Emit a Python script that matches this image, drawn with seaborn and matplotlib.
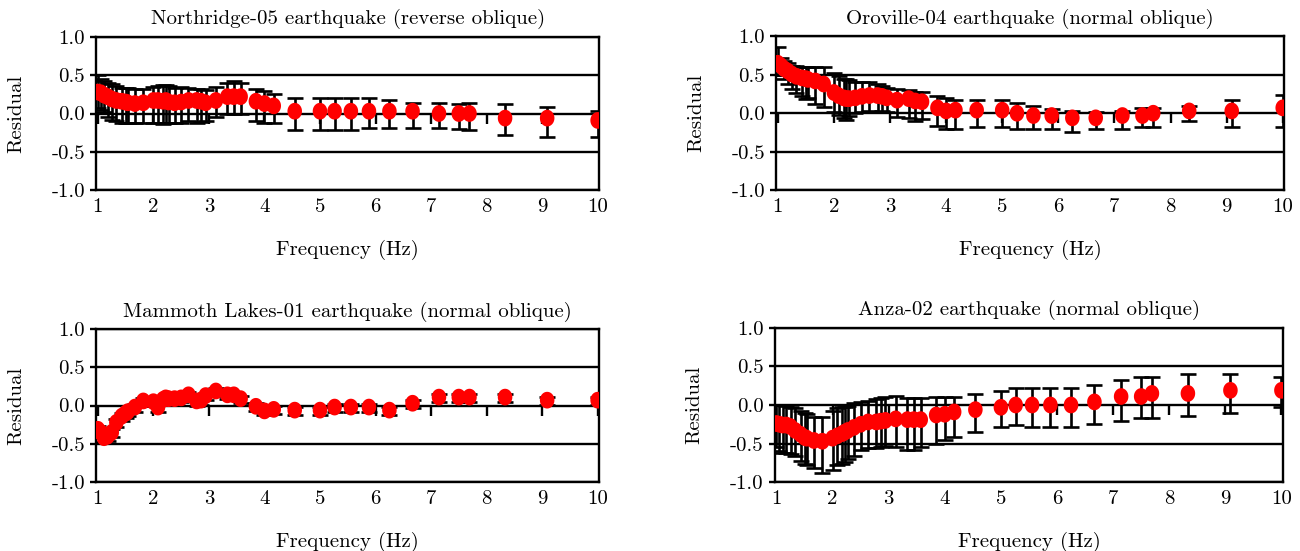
import numpy as np
import pandas as pd
import matplotlib
matplotlib.use("Agg")
import matplotlib.pyplot as plt
from matplotlib.path import Path
from matplotlib.markers import MarkerStyle
import seaborn as sns

# ---------------- data ----------------
freq = [1.0, 1.053, 1.111, 1.176, 1.25, 1.333, 1.429, 1.5, 1.538, 1.667, 1.818,
        2.0, 2.083, 2.174, 2.222, 2.273, 2.381, 2.5, 2.632, 2.778, 2.857, 2.941,
        3.125, 3.333, 3.448, 3.571, 3.846, 4.0, 4.167, 4.545, 5.0, 5.263, 5.556,
        5.882, 6.25, 6.667, 7.143, 7.5, 7.692, 8.333, 9.091, 10.0]

titles = ["Northridge-05 earthquake (reverse oblique)",
          "Oroville-04 earthquake (normal oblique)",
          "Mammoth Lakes-01 earthquake (normal oblique)",
          "Anza-02 earthquake (normal oblique)"]

northridge = [0.28, 0.27, 0.24, 0.22, 0.19, 0.17, 0.16, 0.15, 0.14, 0.13, 0.14,
              0.17, 0.17, 0.16, 0.17, 0.15, 0.14, 0.15, 0.17, 0.17, 0.16, 0.14,
              0.17, 0.22, 0.22, 0.22, 0.16, 0.13, 0.10, 0.03, 0.03, 0.03, 0.03,
              0.03, 0.03, 0.03, 0.0, 0.0, 0.0, -0.06, -0.06, -0.09]
northridge_hi = [0.50, 0.45, 0.42, 0.40, 0.38, 0.36, 0.33, 0.33, 0.33, 0.32, 0.32,
                 0.35, 0.36, 0.37, 0.37, 0.36, 0.33, 0.34, 0.33, 0.32, 0.32, 0.31,
                 0.35, 0.40, 0.42, 0.40, 0.32, 0.29, 0.26, 0.20, 0.20, 0.20, 0.20,
                 0.20, 0.17, 0.14, 0.14, 0.12, 0.14, 0.12, 0.08, 0.03]
northridge_lo = [0.07, 0.05, 0.02, -0.05, -0.08, -0.10, -0.13, -0.13, -0.13, -0.13, -0.13,
                 -0.12, -0.13, -0.14, -0.13, -0.12, -0.13, -0.13, -0.10, -0.12, -0.11, -0.10,
                 -0.05, 0.0, -0.01, 0.0, -0.10, -0.12, -0.12, -0.22, -0.21, -0.21, -0.21,
                 -0.19, -0.19, -0.19, -0.19, -0.20, -0.21, -0.28, -0.31, -0.31]

oroville = [0.65, 0.62, 0.58, 0.55, 0.51, 0.48, 0.46, 0.45, 0.44, 0.42, 0.38,
            0.27, 0.23, 0.20, 0.19, 0.19, 0.20, 0.22, 0.23, 0.23, 0.22, 0.20,
            0.17, 0.19, 0.16, 0.15, 0.07, 0.03, 0.04, 0.04, 0.04, 0.0, -0.03,
            -0.03, -0.06, -0.06, -0.03, -0.03, 0.0, 0.03, 0.03, 0.07]
oroville_hi = [0.86, 0.72, 0.68, 0.65, 0.62, 0.62, 0.60, 0.60, 0.60, 0.60, 0.60,
               0.52, 0.48, 0.45, 0.44, 0.43, 0.40, 0.40, 0.40, 0.38, 0.36, 0.33,
               0.31, 0.30, 0.27, 0.27, 0.22, 0.20, 0.17, 0.17, 0.17, 0.13, 0.09,
               0.05, 0.03, 0.01, 0.03, 0.07, 0.07, 0.10, 0.17, 0.24]
oroville_lo = [0.50, 0.50, 0.45, 0.38, 0.32, 0.26, 0.22, 0.19, 0.20, 0.12, 0.08,
               0.02, -0.02, -0.06, -0.09, -0.03, 0.0, 0.02, 0.03, 0.02, 0.03, 0.02,
               -0.05, -0.06, -0.10, -0.08, -0.17, -0.20, -0.20, -0.18, -0.18, -0.21, -0.21,
               -0.21, -0.25, -0.21, -0.21, -0.18, -0.18, -0.10, -0.18, -0.18]

mammoth = [-0.31, -0.35, -0.42, -0.40, -0.35, -0.22, -0.14, -0.10, -0.08, -0.02, 0.06,
           0.05, -0.02, 0.08, 0.10, 0.09, 0.09, 0.10, 0.14, 0.06, 0.07, 0.13,
           0.19, 0.14, 0.14, 0.09, -0.01, -0.07, -0.05, -0.06, -0.06, -0.02, -0.02,
           -0.02, -0.06, 0.03, 0.11, 0.11, 0.11, 0.11, 0.07, 0.07]
mammoth_hi = [v + 0.04 for v in mammoth]
mammoth_lo = [v - 0.06 for v in mammoth]

anza = [-0.24, -0.25, -0.26, -0.26, -0.28, -0.33, -0.38, -0.42, -0.43, -0.46, -0.47,
        -0.43, -0.40, -0.37, -0.35, -0.33, -0.29, -0.25, -0.22, -0.22, -0.21, -0.20,
        -0.18, -0.19, -0.19, -0.19, -0.13, -0.12, -0.09, -0.06, -0.03, 0.0, 0.0,
        0.0, 0.0, 0.04, 0.11, 0.11, 0.15, 0.15, 0.19, 0.19]
anza_hi = [0.0, 0.0, 0.0, -0.01, -0.02, -0.04, -0.08, -0.11, -0.12, -0.16, -0.15,
           -0.08, -0.04, -0.02, -0.02, -0.01, 0.02, 0.04, 0.05, 0.08, 0.09, 0.10,
           0.11, 0.09, 0.09, 0.09, 0.10, 0.10, 0.10, 0.14, 0.18, 0.22, 0.22,
           0.22, 0.22, 0.26, 0.32, 0.36, 0.36, 0.40, 0.40, 0.36]
anza_lo = [-0.55, -0.60, -0.62, -0.62, -0.63, -0.66, -0.72, -0.76, -0.78, -0.82, -0.88,
           -0.84, -0.78, -0.76, -0.74, -0.70, -0.66, -0.58, -0.56, -0.56, -0.55, -0.53,
           -0.55, -0.58, -0.58, -0.55, -0.50, -0.45, -0.41, -0.35, -0.28, -0.26, -0.28,
           -0.28, -0.28, -0.25, -0.21, -0.17, -0.17, -0.14, -0.10, -0.03]

xticks = [1, 2, 3, 4, 5, 6, 7, 8, 9, 10]
xticklabels = ["1", "2", "3", "4", "5", "6", "7", "8", "9", "10"]
yticks = [1.0, 0.5, 0.0, -0.5, -1.0]
yticklabels = ["1.0", "0.5", "0.0", "-0.5", "-1.0"]

series = [(northridge, northridge_lo, northridge_hi),
          (oroville, oroville_lo, oroville_hi),
          (mammoth, mammoth_lo, mammoth_hi),
          (anza, anza_lo, anza_hi)]

# ---------------- style ----------------
sns.set_theme(style="white")
plt.rcParams["font.family"] = ["cmr10", "DejaVu Serif"]
plt.rcParams["axes.formatter.use_mathtext"] = True

FS = 15

# slightly tall ellipse marker
t = np.linspace(0, 2 * np.pi, 60)
ell = Path(np.column_stack([0.87 * np.cos(t), np.sin(t)]), closed=True)
ell_marker = MarkerStyle(ell)

fig = plt.figure(figsize=(13, 5.51), dpi=100)
positions = [[0.074, 0.655, 0.387, 0.278],
             [0.597, 0.655, 0.391, 0.279],
             [0.074, 0.125, 0.387, 0.278],
             [0.596, 0.125, 0.391, 0.280]]

for pos, title, (vals, lo, hi) in zip(positions, titles, series):
    ax = fig.add_axes(pos)
    df = pd.DataFrame({"freq": freq, "residual": vals, "lo": lo, "hi": hi})
    yerr = np.vstack([np.clip(df["residual"] - df["lo"], 0, None),
                      np.clip(df["hi"] - df["residual"], 0, None)])
    ax.errorbar(df["freq"], df["residual"], yerr=yerr, fmt="none",
                ecolor="black", elinewidth=1.9, capsize=6, capthick=1.9, zorder=2)
    sns.scatterplot(data=df, x="freq", y="residual", ax=ax, color="#ff0000",
                    marker=ell_marker, s=145, edgecolor="none", linewidth=0,
                    zorder=3, legend=False)

    ax.set_xlim(0.97, 10.03)
    ax.set_ylim(-1.0, 1.0)
    ax.set_xticks(xticks)
    ax.set_xticklabels(xticklabels)
    ax.set_yticks(yticks)
    ax.set_yticklabels(yticklabels)
    ax.set_axisbelow(True)
    ax.yaxis.grid(True, color="black", linewidth=1.7)
    ax.xaxis.grid(False)
    for sp in ax.spines.values():
        sp.set_visible(True)
        sp.set_color("black")
        sp.set_linewidth(1.7)
    ax.tick_params(axis="x", length=0, pad=6, labelsize=FS, colors="black")
    ax.tick_params(axis="y", left=True, direction="out", length=4, width=1.7,
                   pad=4, labelsize=FS, colors="black")

    # x-axis ticks crossing at y = 0 (pointing downward)
    sec = ax.secondary_xaxis(0, transform=ax.transData)
    sec.set_xticks(xticks)
    sec.tick_params(axis="x", direction="out", length=7, width=1.7,
                    bottom=True, top=False, labelbottom=False, labeltop=False,
                    colors="black")
    for sp in sec.spines.values():
        sp.set_visible(False)

    ax.set_title(title, fontsize=FS, pad=9, color="black")
    ax.set_xlabel("Frequency (Hz)", fontsize=FS, labelpad=17, color="black")
    ax.set_ylabel("Residual", fontsize=FS, labelpad=19, color="black")

fig.savefig("out.png", dpi=100)
